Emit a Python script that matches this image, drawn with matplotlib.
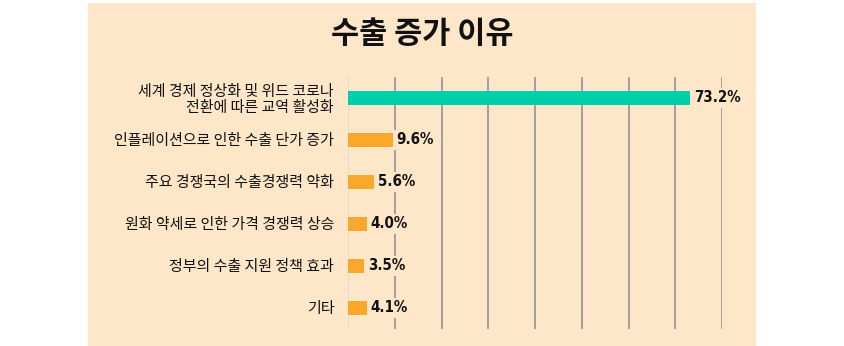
import matplotlib.pyplot as plt
from matplotlib.patches import Rectangle

plt.rcParams['font.family'] = ['Noto Sans CJK KR', 'DejaVu Sans']

title = "수출 증가 이유"
categories = [
    "세계 경제 정상화 및 위드 코로나\n전환에 따른 교역 활성화",
    "인플레이션으로 인한 수출 단가 증가",
    "주요 경쟁국의 수출경쟁력 약화",
    "원화 약세로 인한 가격 경쟁력 상승",
    "정부의 수출 지원 정책 효과",
    "기타",
]
values = [73.2, 9.6, 5.6, 4.0, 3.5, 4.1]
value_labels = ["73.2%", "9.6%", "5.6%", "4.0%", "3.5%", "4.1%"]

BG = "#FEE6C8"
TEAL = "#00CFAB"
ORANGE = "#F9A82B"

fig = plt.figure(figsize=(8.44, 3.46), dpi=100)
fig.patch.set_facecolor("white")

# beige panel behind everything
fig.patches.append(Rectangle((88 / 844, 0), 668 / 844, 343 / 346,
                             transform=fig.transFigure, facecolor=BG,
                             edgecolor="none", zorder=-10))

ax = fig.add_axes([348 / 844, 17 / 346, 374 / 844, 252 / 346])
ax.set_facecolor("none")

ypos = list(range(len(categories)))
colors = [TEAL] + [ORANGE] * (len(values) - 1)
ax.barh(ypos, values, height=0.31, color=colors, zorder=3)

ax.set_xlim(0, 80)
ax.set_ylim(len(categories) - 0.5, -0.5)

# vertical grid
for x in range(10, 81, 10):
    ax.axvline(x, color="#9a9a9a", linewidth=1.3, zorder=1)
ax.axvline(0, color="#d9d9d9", linewidth=1.3, zorder=2)

for s in ax.spines.values():
    s.set_visible(False)
ax.set_xticks([])
ax.set_yticks(ypos)
ax.set_yticklabels(categories, fontsize=10.8, fontweight="medium",
                   color="#111111", linespacing=1.15)
ax.tick_params(axis="y", length=0, pad=10)

for y, v, lab in zip(ypos, values, value_labels):
    ax.annotate(lab, xy=(v, y), xytext=(2.5, 0), textcoords="offset points",
                ha="left", va="center", fontsize=10.8, fontweight="bold",
                fontstretch="condensed", family=["DejaVu Sans"],
                color="#111111", zorder=4, annotation_clip=False,
                bbox=dict(boxstyle="square,pad=0.15", facecolor=BG, edgecolor="none"))

fig.text(422 / 844, 1 - 34 / 346, title, ha="center", va="center",
         fontsize=22, fontweight="bold", color="#111111")

plt.savefig("out.png", dpi=100, facecolor=fig.get_facecolor())
